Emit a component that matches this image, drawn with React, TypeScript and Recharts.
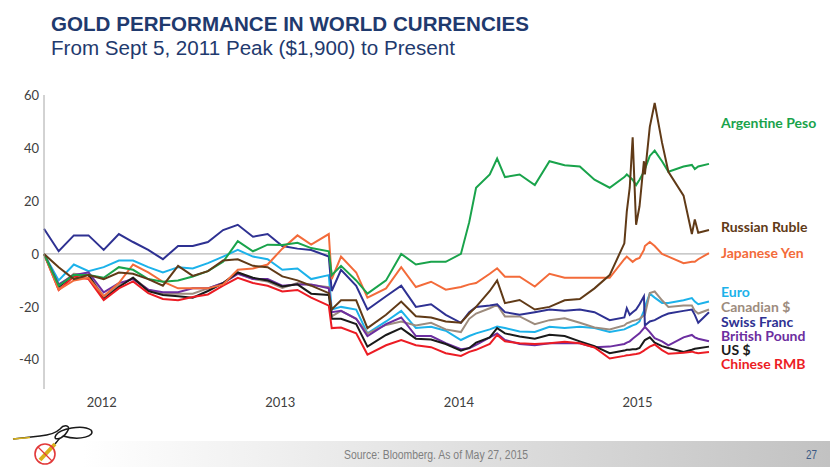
import { LineChart, Line, XAxis, YAxis, ReferenceLine } from "recharts";

// sample dates (monthly, denser around the big moves)
const dates = [
  "2011-09-05", "2011-10-05", "2011-11-05", "2011-12-05",
  "2012-01-05", "2012-02-05", "2012-03-05", "2012-04-05", "2012-05-05", "2012-06-05",
  "2012-07-05", "2012-08-05", "2012-09-05", "2012-10-05", "2012-11-05", "2012-12-05",
  "2013-01-05", "2013-02-05", "2013-03-05", "2013-04-10", "2013-04-16", "2013-05-05",
  "2013-06-05", "2013-06-28", "2013-08-05", "2013-09-05", "2013-10-05", "2013-11-05", "2013-12-05",
  "2014-01-05", "2014-01-22", "2014-02-05", "2014-03-05", "2014-03-20", "2014-04-05", "2014-05-05",
  "2014-06-05", "2014-07-05", "2014-08-05", "2014-09-05", "2014-10-05", "2014-11-05",
  "2014-12-05", "2014-12-10", "2014-12-16", "2014-12-22", "2014-12-29",
  "2015-01-05", "2015-01-14", "2015-01-16", "2015-01-26", "2015-02-05", "2015-02-20",
  "2015-03-05", "2015-04-05", "2015-04-22", "2015-04-28", "2015-05-05", "2015-05-27",
];

// % change in gold price, per currency
const peso = [0, -12, -8, -8, -9, -5, -6, -9.5, -10.5, -10, -8.5, -6.5, -3, 4.8, 1, 3.5, 3.4, 4.2, 2.2, 1, -8, -4.5, -10, -15, -10, 0, -4, -3, -3, 0, 12, 25, 30, 36, 29, 30, 26, 35, 33.5, 33, 28, 25, 29, 30, 29, 28, 26, 28, 31, 32, 37, 39, 35, 31, 33, 33.6, 32, 33, 34];
const ruble = [0, -5, -9.5, -8, -9.5, -7, -7.5, -9.5, -12, -4.5, -8.3, -6.5, -2.5, -2, -4.5, -5, -8.5, -10, -12, -14.8, -21, -17.5, -17.5, -28, -23, -18, -23.5, -24, -25.5, -26, -22.5, -20, -14, -10, -18.6, -17.4, -21, -20, -17.5, -17, -13, -8, 4, 16, 25, 44, 11, 18, 35, 30, 48, 57, 42, 31, 22, 7.5, 13, 8, 9];
const yen = [0, -13.5, -10, -9, -16, -11, -4, -7, -10.5, -13, -13, -13, -11.5, -6, -5.5, -4, 2, 7, 3.5, 7.5, -9.5, -1, -7, -16.5, -13, -5, -12.5, -10.5, -13.5, -12.5, -11.5, -11, -7.5, -5.4, -8.6, -8.6, -12.3, -7.5, -9, -9, -9, -9, -2, -1, -2, -3, -2, -1.5, 1.5, 3, 4.5, 3, 0, -1, -3.5, -3, -3, -2, 0.3];
const euro = [0, -10, -4, -6.5, -5, -2.5, -2.5, -5, -7, -5, -5.5, -3.5, -1, 1.5, -1, -2, -6, -5.5, -9.5, -8, -21, -20, -21, -30, -25.5, -21.5, -28, -27.5, -29, -32.5, -31, -30, -28.5, -27.4, -28, -29.3, -29.5, -27.5, -28, -27.5, -28, -29.5, -28.5, -28, -27.5, -27, -26.5, -25.5, -21.5, -20, -15, -16.5, -18.5, -18.5, -17.5, -16.7, -18, -19, -18];
const cad = [0, -12, -7.5, -8, -16, -12, -9, -13.5, -15, -15, -15, -13, -11, -7, -9.5, -10.4, -12.8, -11, -11.7, -12.5, -23.6, -21.5, -24.5, -30, -26.8, -25.5, -27, -26, -28.5, -29.5, -24.5, -22.5, -20.5, -19.2, -23.6, -23.6, -26.5, -25, -24.3, -26, -27.8, -28.5, -27, -26.2, -25.8, -25.3, -25, -24.5, -23.2, -23, -14.8, -14.2, -17.5, -20, -19.5, -19.5, -21.5, -22.5, -21];
const swiss = [9.5, 1, 7, 7, 1.5, 7.5, 4.5, 1.5, -2, 3, 3, 4.5, 9, 11, 6.5, 7.5, 3, 2, 1.5, -1, -14, -6, -12, -21, -16, -12, -20, -19, -23, -26, -22, -20, -19.5, -19, -22, -23, -22, -21, -21.5, -21, -22, -25, -24, -20.5, -23, -22, -21, -19, -16, -27, -25.5, -25, -23.5, -22.5, -21.5, -21, -23, -26, -22];
const gbp = [0, -11.5, -8, -7, -14.5, -11, -9.5, -13.5, -14.5, -14.5, -13, -13, -11, -7.5, -9.5, -9.5, -12, -11.5, -11.5, -13, -22, -21.5, -24.5, -31, -26.5, -24, -31, -31, -33.7, -36, -35.6, -34.3, -31.5, -30, -32.5, -34, -34.5, -33.7, -33.7, -33.7, -35.2, -35, -34, -33.5, -33, -32, -31, -30, -28, -27.5, -29.5, -31.8, -33, -34.5, -31.5, -30.6, -31.5, -32, -33];
const usd = [0, -12.5, -8, -8, -17, -12.5, -9, -14, -15.5, -16, -16.5, -14, -11, -7, -9, -10, -12.3, -11.5, -15, -15.5, -24.5, -24.5, -26.5, -35, -30.6, -28, -32, -32.3, -34, -36.5, -35.5, -33.5, -31.5, -28, -30, -31.2, -32, -30.5, -31, -33, -34.8, -37.5, -36.5, -36.2, -36.2, -36, -36, -35.5, -33, -32.5, -31.5, -33.5, -34.8, -35.5, -37, -36.2, -35.8, -35.6, -35];
const rmb = [0, -13.6, -8.5, -9.5, -17.4, -13, -10.4, -14.8, -17, -17.5, -16.3, -15.3, -12, -9, -11, -12, -14.2, -13.6, -16.5, -19.5, -28, -27.8, -30, -38, -34.5, -32.5, -34.5, -35.2, -37.5, -38.5, -37, -36.2, -34, -30.6, -33, -33.7, -34, -33.7, -33.2, -33.7, -35.3, -39.5, -38.5, -38.3, -38.2, -38, -37.8, -37.5, -36.5, -36.2, -35, -34.2, -36.3, -37.7, -37.3, -36.9, -37.2, -37.5, -37];

const yearTicks = [2012, 2013, 2014, 2015];
const valueTicks = [-40, -20, 0, 20, 40, 60];

const series = [
  { key: "euro", name: "Euro", color: "#1CB2EA", values: euro, labelY: 297 },
  { key: "cad", name: "Canadian $", color: "#9D8C7E", values: cad, labelY: 312 },
  { key: "swiss", name: "Swiss Franc", color: "#2E3192", values: swiss, labelY: 327 },
  { key: "gbp", name: "British Pound", color: "#6C2EA0", values: gbp, labelY: 341 },
  { key: "usd", name: "US $", color: "#1A1A1A", values: usd, labelY: 355 },
  { key: "rmb", name: "Chinese RMB", color: "#EC1C24", values: rmb, labelY: 369 },
  { key: "yen", name: "Japanese Yen", color: "#F36B3A", values: yen, labelY: 258 },
  { key: "peso", name: "Argentine Peso", color: "#19A34B", values: peso, labelY: 128 },
  { key: "ruble", name: "Russian Ruble", color: "#603A17", values: ruble, labelY: 232 },
];

// date string -> decimal year
function toYear(d: string) {
  const [y, m, dd] = d.split("-").map(Number);
  const day = (Date.UTC(y, m - 1, dd) - Date.UTC(y, 0, 1)) / 86400000;
  return y + day / 365;
}

const rows = dates.map((d, i) => {
  const row: Record<string, number> = { t: toYear(d) };
  for (const s of series) row[s.key] = s.values[i];
  return row;
});

const tickFont = { fill: "#404040", fontSize: 13, fontFamily: "Lato, sans-serif" };
const narrow = "'Liberation Sans Narrow', 'Liberation Sans', sans-serif";

export default function App() {
  return (
    <div style={{ position: "absolute", left: 0, top: 0, width: 830, height: 467, background: "#fff", overflow: "hidden" }}>
      <svg width={830} height={467} style={{ position: "absolute", left: 0, top: 0 }}>
        <defs>
          <linearGradient id="foot" x1="0" x2="1" y1="0" y2="0">
            <stop offset="0.1" stopColor="#ffffff" />
            <stop offset="1" stopColor="#c2c2c2" />
          </linearGradient>
        </defs>
        <rect x={0} y={441} width={830} height={26} fill="url(#foot)" />
        <text x={51} y={31} fill="#1F3A6E" fontSize={20.3} fontWeight={700} textLength={478} lengthAdjust="spacingAndGlyphs" fontFamily="'Liberation Sans', Arial, sans-serif">
          GOLD PERFORMANCE IN WORLD CURRENCIES
        </text>
        <text x={51} y={55} fill="#1F3A6E" fontSize={20.5} textLength={404} lengthAdjust="spacingAndGlyphs" fontFamily="'Liberation Sans', Arial, sans-serif">
          From Sept 5, 2011 Peak ($1,900) to Present
        </text>
        <text x={344} y={459} fill="#7f7f7f" fontSize={12} textLength={184} lengthAdjust="spacingAndGlyphs" fontFamily={narrow}>
          Source: Bloomberg. As of May 27, 2015
        </text>
        <text x={806} y={459} fill="#3B5A85" fontSize={12} textLength={11} lengthAdjust="spacingAndGlyphs" fontFamily={narrow}>
          27
        </text>
        {/* little gold-bug logo */}
        <path d="M13 439 L 40 436 C 50 435, 56 433, 60 429 C 64 424, 72 425, 67 432 C 62 440, 52 441, 56 435 C 60 429, 82 424, 91 430 C 96 436, 80 441, 63 436 C 60 438, 57 441, 55 444" fill="none" stroke="#1a1a1a" strokeWidth={1.5} />
        <line x1={13} y1={439} x2={30} y2={437.5} stroke="#d9b21c" strokeWidth={1.5} />
        <line x1={40} y1={460} x2={55} y2={444} stroke="#d9b21c" strokeWidth={4} />
        <circle cx={45} cy={454} r={10} fill="none" stroke="#e23a3a" strokeWidth={1.6} />
        <line x1={38} y1={447} x2={52} y2={461} stroke="#e23a3a" strokeWidth={1.3} />
        {series.map(s => (
          <text key={s.key} x={721} y={s.labelY} fill={s.color} fontSize={14} fontWeight={700} fontFamily="Lato, sans-serif">
            {s.name}
          </text>
        ))}
      </svg>
      <div style={{ position: "absolute", left: 0, top: 0 }}>
        <LineChart width={830} height={467} data={rows} margin={{ top: 95, right: 121, bottom: 48, left: 0 }}>
          <XAxis
            dataKey="t"
            type="number"
            domain={[rows[0].t, rows[rows.length - 1].t]}
            ticks={yearTicks}
            tickFormatter={v => String(v)}
            axisLine={false}
            tickLine={false}
            tickSize={6}
            tickMargin={3}
            height={30}
            tick={tickFont}
          />
          <YAxis
            type="number"
            domain={[-51, 60]}
            ticks={valueTicks}
            width={44}
            tickLine={false}
            tickSize={3}
            tickMargin={2}
            axisLine={{ stroke: "#a6a6a6" }}
            tick={tickFont}
          />
          <ReferenceLine y={0} stroke="#a6a6a6" strokeWidth={1} />
          {series.map(s => (
            <Line
              key={s.key}
              type="linear"
              dataKey={s.key}
              stroke={s.color}
              strokeWidth={2}
              dot={false}
              isAnimationActive={false}
            />
          ))}
        </LineChart>
      </div>
    </div>
  );
}
